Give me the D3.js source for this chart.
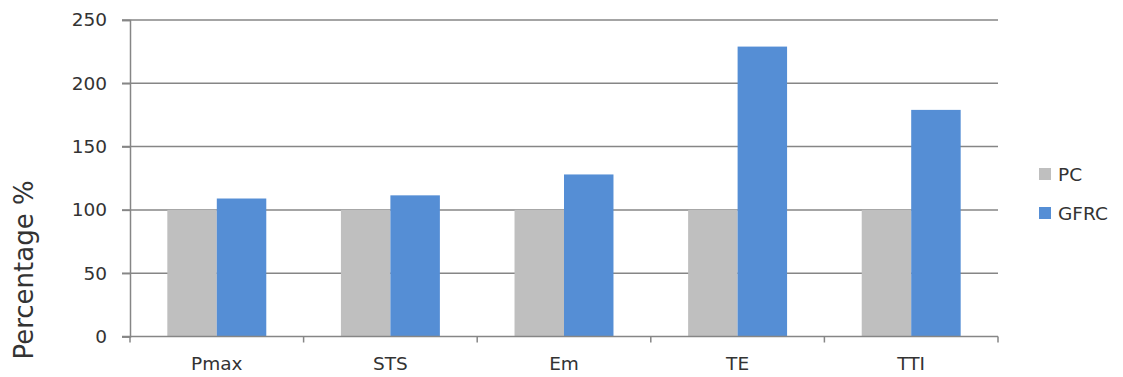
<!DOCTYPE html>
<html>
<head>
<meta charset="utf-8">
<script src="https://cdn.jsdelivr.net/npm/d3@7"></script>
<style>
  body { margin: 0; background: #fff; }
  text { font-family: "DejaVu Sans", Verdana, sans-serif; fill: #333333; }
</style>
</head>
<body>
<div id="chart"></div>
<script>
var categories = ["Pmax", "STS", "Em", "TE", "TTI"];
var seriesNames = ["PC", "GFRC"];
var pcValues = [100, 100, 100, 100, 100];
var gfrcValues = [109, 111.5, 128, 229, 179];
var yTicks = [0, 50, 100, 150, 200, 250];

var width = 1123, height = 377;
var margin = { top: 20, left: 130, right: 125, bottom: 40.5 };
var colors = { PC: "#bfbfbf", GFRC: "#558ed5" };
var gridColor = "#868686";

var rows = categories.map(function (c, i) {
    return { cat: c, PC: pcValues[i], GFRC: gfrcValues[i] };
});

var svg = d3.select("#chart")
    .append("svg")
    .attr("width", width)
    .attr("height", height);

var x0 = d3.scaleBand()
    .domain(categories)
    .range([margin.left, width - margin.right])
    .paddingInner(0.43)
    .paddingOuter(0.215);

var x1 = d3.scaleBand()
    .domain(seriesNames)
    .range([0, x0.bandwidth()]);

var y = d3.scaleLinear()
    .domain([0, 250])
    .range([height - margin.bottom, margin.top]);

// gridlines
svg.append("g")
    .selectAll("line")
    .data(yTicks.filter(function (d) { return d > 0; }))
    .join("line")
    .attr("x1", margin.left - 8)
    .attr("x2", width - margin.right)
    .attr("y1", function (d) { return y(d); })
    .attr("y2", function (d) { return y(d); })
    .attr("stroke", gridColor)
    .attr("stroke-width", 1.5);

// bars
svg.append("g")
    .selectAll("g")
    .data(rows)
    .join("g")
    .attr("transform", function (d) { return "translate(" + x0(d.cat) + ",0)"; })
    .selectAll("rect")
    .data(function (d) { return seriesNames.map(function (s) { return { key: s, value: d[s] }; }); })
    .join("rect")
    .attr("x", function (d) { return x1(d.key); })
    .attr("width", x1.bandwidth())
    .attr("y", function (d) { return y(d.value); })
    .attr("height", function (d) { return y(0) - y(d.value); })
    .attr("fill", function (d) { return colors[d.key]; });

// y axis
var yAxis = svg.append("g")
    .attr("transform", "translate(" + margin.left + ",0)")
    .call(d3.axisLeft(y).tickValues(yTicks).tickSize(8).tickPadding(15));
yAxis.select(".domain").attr("stroke", gridColor).attr("stroke-width", 1.5);
yAxis.selectAll(".tick line").attr("stroke", gridColor).attr("stroke-width", 1.5);
yAxis.selectAll(".tick text")
    .style("font-size", "18.5px")
    .attr("fill", "#333333");

// x axis
var bounds = categories.map(function (c) { return x0(c) - x0.step() * x0.paddingInner() / 2; });
bounds[0] = margin.left;
bounds.push(width - margin.right);
var xg = svg.append("g");
xg.append("line")
    .attr("x1", margin.left - 8)
    .attr("x2", width - margin.right)
    .attr("y1", y(0))
    .attr("y2", y(0))
    .attr("stroke", gridColor)
    .attr("stroke-width", 1.5);
xg.selectAll("line.tk")
    .data(bounds)
    .join("line")
    .attr("class", "tk")
    .attr("x1", function (d) { return d; })
    .attr("x2", function (d) { return d; })
    .attr("y1", y(0))
    .attr("y2", y(0) + 6)
    .attr("stroke", gridColor)
    .attr("stroke-width", 1.5);
xg.selectAll("text")
    .data(categories)
    .join("text")
    .attr("x", function (d) { return x0(d) + x0.bandwidth() / 2; })
    .attr("y", height - 7)
    .attr("text-anchor", "middle")
    .style("font-size", "18.5px")
    .text(function (d) { return d; });

// y title
svg.append("text")
    .attr("transform", "translate(33," + 270 + ") rotate(-90)")
    .attr("text-anchor", "middle")
    .style("font-size", "26px")
    .text("Percentage %");

// legend
var legend = svg.append("g")
    .selectAll("g")
    .data(seriesNames)
    .join("g")
    .attr("transform", function (d, i) { return "translate(1039," + (168 + i * 39) + ")"; });
legend.append("rect")
    .attr("width", 12)
    .attr("height", 12)
    .attr("fill", function (d) { return colors[d]; });
legend.append("text")
    .attr("x", 19)
    .attr("y", 13)
    .style("font-size", "18.5px")
    .text(function (d) { return d; });
</script>
</body>
</html>
